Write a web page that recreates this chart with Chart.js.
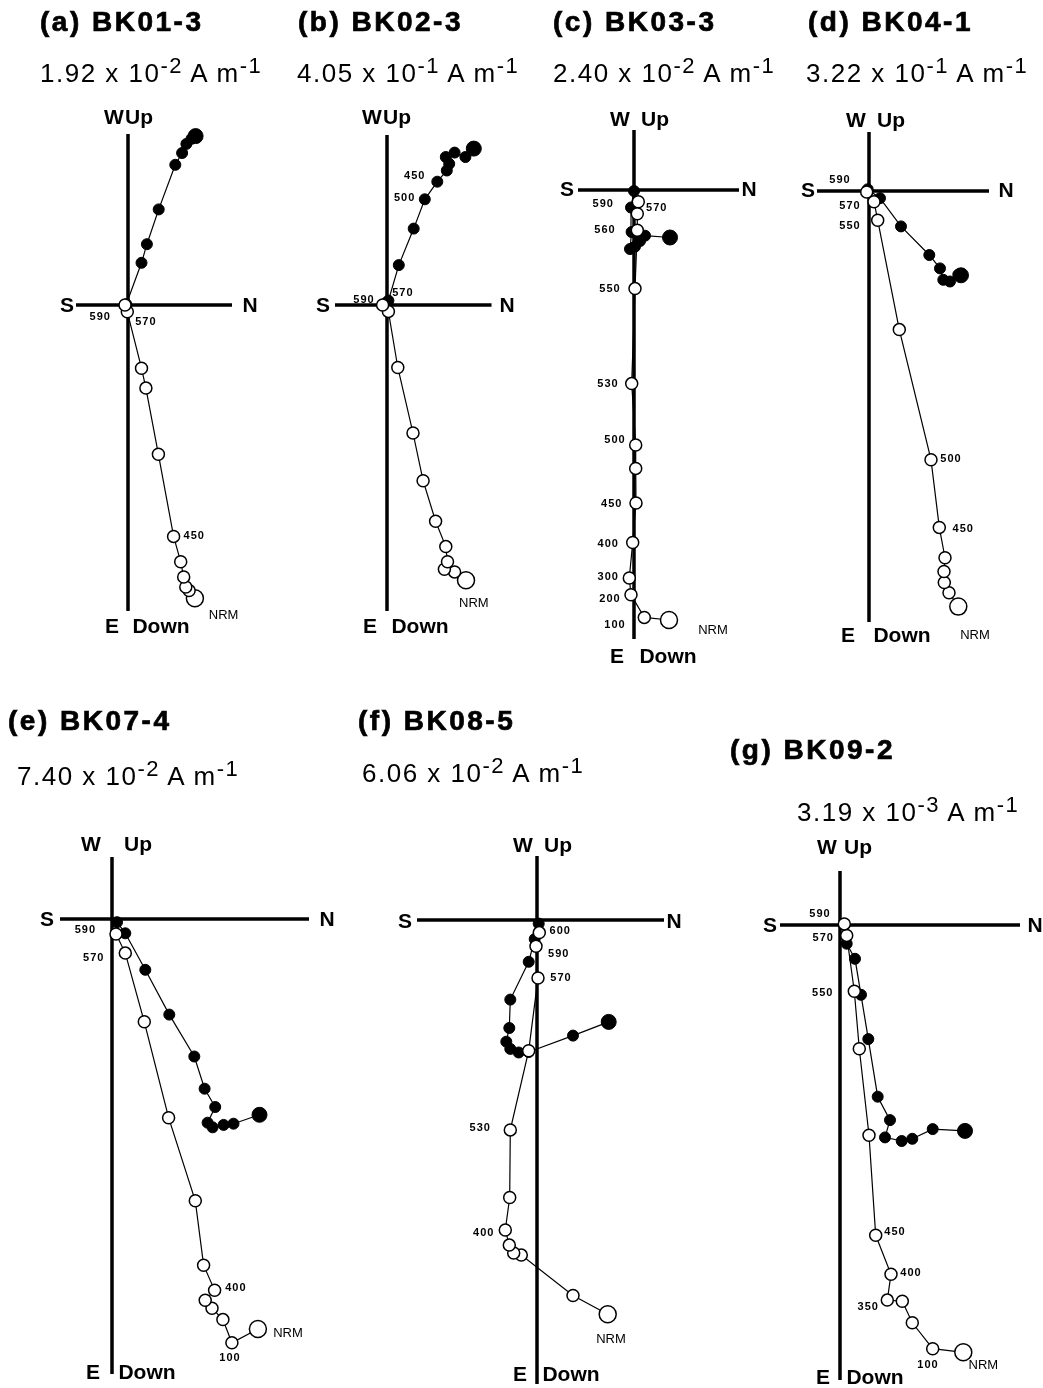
<!DOCTYPE html>
<html>
<head>
<meta charset="utf-8">
<script src="https://cdn.jsdelivr.net/npm/chart.js@4.4.0/dist/chart.umd.min.js"></script>
<style>
body { margin: 0; background: #fff; width: 1043px; height: 1388px; position: relative; overflow: hidden;
       font-family: "Liberation Sans", Arial, sans-serif; }
canvas { position: absolute; left: 0; top: 0; }
.title { position: absolute; font-weight: bold; font-size: 28px; line-height: 1; letter-spacing: 2.5px; white-space: nowrap;
         -webkit-text-stroke: 0.7px #000; }
.inten { position: absolute; font-size: 26px; line-height: 1; letter-spacing: 1.5px; white-space: nowrap; }
.inten sup { font-size: 22px; position: relative; top: -9px; vertical-align: baseline; line-height: 0; }
</style>
</head>
<body>
<script>
const W = 1043, H = 1388;

// sample names and NRM intensities
const titles = ["(a) BK01-3", "(b) BK02-3", "(c) BK03-3", "(d) BK04-1", "(e) BK07-4", "(f) BK08-5", "(g) BK09-2"];
const intensities = [["1.92", "-2"], ["4.05", "-1"], ["2.40", "-2"], ["3.22", "-1"], ["7.40", "-2"], ["6.06", "-2"], ["3.19", "-3"]];

// Zijderveld data, NRM first. x = N, y = E (solid) / Up (open)
const bk01Horiz = [[67.6,168.9],[63.5,166.2],[58.4,161.1],[54.1,152],[47.3,140.2],[30.7,95.6],[18.9,60.8],[13.5,42.2],[-1.7,0.7]];
const bk01Vert  = [[66.9,-293.2],[61.1,-285.5],[57.8,-282],[55.7,-272],[52.7,-256.8],[45.6,-231.4],[30.4,-149.3],[17.9,-83.1],[13.5,-63.2],[-0.7,-6.8],[-3,0]];
const bk02Horiz = [[86.8,156.4],[78.4,148],[67.6,152.4],[58.8,148],[62.2,141.2],[59.8,134.5],[50.3,123.3],[37.8,105.7],[26.7,76.4],[11.8,39.9],[1.4,4.4],[-1,2]];
const bk02Vert  = [[79,-275.3],[67.6,-266.9],[57.4,-264.2],[60.5,-256.8],[58.8,-241.6],[48.6,-216.2],[36.1,-175.7],[26,-128],[10.8,-62.5],[1.4,-6.4],[-4.4,0]];
const bk03Horiz = [[36,-47.5],[11,-45.7],[3.4,-43.8],[6,-51],[1,-56.6],[-4,-59],[-2.4,-42],[-3,-17.5],[0,-1]];
const bk03Vert  = [[35,-430],[10.3,-427.4],[-3,-404.8],[-4.7,-388],[-1.3,-352.5],[2,-313],[1.7,-278.4],[1.7,-255],[-2.3,-193.6],[1,-98.6],[3.3,-40.2],[3.3,-23.7],[4.3,-11.7]];
const bk04Horiz = [[92,-84.3],[89.3,-83.6],[81,-90.5],[74.3,-88.8],[71,-77.4],[60.3,-64],[32,-35.4],[11,-7.2],[-1.3,1.7]];
const bk04Vert  = [[89.3,-415.6],[80,-401.8],[75.3,-391.5],[75,-380.5],[76,-366.7],[70.3,-336.4],[62,-268.7],[30.3,-138.6],[8.7,-29.2],[5,-10.7],[-2.3,-1]];
const bk07Horiz = [[147.5,-195.8],[121.5,-204.7],[111.6,-205.9],[100.6,-208.3],[95.6,-203.7],[103.2,-188],[92.6,-169.7],[82.3,-137.5],[57.3,-95.6],[33.3,-50.8],[13.3,-14.3],[5,-3.2]];
const bk07Vert  = [[145.9,-410],[119.9,-423.8],[110.9,-400.6],[100,-389.2],[93.2,-381.2],[102.6,-371.3],[91.6,-346.2],[83.3,-281.8],[56.6,-198.7],[32.3,-102.8],[13.3,-34.1],[4,-15]];
const bk08Horiz = [[71.7,-101.9],[36,-115.6],[-8.3,-132],[-18.3,-132.5],[-26.7,-128.9],[-30.7,-121.7],[-27.7,-108],[-26.7,-79.6],[-8.3,-41.8],[-2.3,-19.1],[1.7,-3.6]];
const bk08Vert  = [[70.7,-394.2],[36,-375.5],[-15.7,-335.1],[-23.3,-333],[-27.7,-325.1],[-31.7,-310],[-27.3,-277.5],[-26.7,-209.9],[-8.3,-130.7],[1,-58],[-1,-26.3],[2.3,-12.6]];
const bk09Horiz = [[125,-205.9],[92.7,-204.1],[72.3,-213.8],[61.7,-216],[45,-212.4],[50,-195.1],[37.7,-171.7],[28.3,-114.1],[21,-69.8],[15,-33.8],[6.7,-18.7]];
const bk09Vert  = [[123.3,-427.3],[92.7,-423.7],[72.3,-397.8],[62.3,-376.2],[47.3,-375.1],[51,-349.2],[35.7,-310.3],[29,-210.2],[19.3,-123.8],[14.3,-66.2],[6.7,-10.4],[4.3,1.1]];

// demagnetisation step labels [text, x, y]
const bk01Steps = [["590",-27.7,-11.8],["570",17.9,-16.9],["450",66.2,-231.4],["NRM",95.6,-310.8]];
const bk02Steps = [["450",27.7,129.4],["500",17.6,107.4],["570",15.9,11.8],["590",-23,5],["NRM",86.8,-298]];
const bk03Steps = [["590",-30.7,-13.9],["570",22.7,-17.5],["560",-29,-39.5],["550",-24,-98.6],["530",-26,-194.3],["500",-19,-250.2],["450",-22.3,-314],["400",-25.7,-353.6],["300",-25.7,-387],["200",-24,-409],["100",-19,-434.7],["NRM",79,-440]];
const bk04Steps = [["590",-29,11],["570",-19,-14.8],["550",-19,-35.4],["500",82,-267.6],["450",94.3,-337.5],["NRM",106,-444]];
const bk07Steps = [["590",-26.6,-11.4],["570",-18.3,-39],["400",123.9,-369.4],["100",118,-439],["NRM",176,-414]];
const bk08Steps = [["600",23.3,-11.1],["590",21.7,-33.5],["570",24,-57.6],["530",-56.7,-208.1],["400",-53.3,-313],["NRM",74,-419.5]];
const bk09Steps = [["590",-20,10.8],["570",-16.7,-12.6],["550",-17.3,-68],["450",55,-307.4],["400",71,-348],["350",28.3,-382.3],["100",88,-440],["NRM",143.3,-440]];

// panel layout: origin on the page, axis extents, axis-name offsets, title positions
const panels = [
  { horiz: bk01Horiz, vert: bk01Vert, steps: bk01Steps, origin: [128, 305], hAxis: [-52, 104], vAxis: [-306, 171],
    names: { W: [-14, 187], Up: [11, 187], S: [-61, -1], N: [122, -1], E: [-16, -322], Down: [33, -322] },
    title: [40, 32], inten: [40, 82] },
  { horiz: bk02Horiz, vert: bk02Vert, steps: bk02Steps, origin: [387, 305], hAxis: [-52, 104.5], vAxis: [-306, 170],
    names: { W: [-15, 187], Up: [10, 187], S: [-64, -1], N: [120, -1], E: [-17, -322], Down: [33, -322] },
    title: [298, 32], inten: [297, 82] },
  { horiz: bk03Horiz, vert: bk03Vert, steps: bk03Steps, origin: [634, 190], hAxis: [-56, 105], vAxis: [-449, 60],
    names: { W: [-14, 70], Up: [21, 70], S: [-67, 0], N: [115, 0], E: [-17, -467], Down: [34, -467] },
    title: [553, 32], inten: [553, 82] },
  { horiz: bk04Horiz, vert: bk04Vert, steps: bk04Steps, origin: [869, 191], hAxis: [-52, 120], vAxis: [-431, 59],
    names: { W: [-13, 70], Up: [22, 70], S: [-61, 0], N: [137, 0], E: [-21, -445], Down: [33, -445] },
    title: [808, 32], inten: [806, 82] },
  { horiz: bk07Horiz, vert: bk07Vert, steps: bk07Steps, origin: [112, 919], hAxis: [-52, 197], vAxis: [-455, 62],
    names: { W: [-21, 74], Up: [26, 74], S: [-65, -1], N: [215, -1], E: [-19, -454], Down: [35, -454] },
    title: [8, 731], inten: [17, 785] },
  { horiz: bk08Horiz, vert: bk08Vert, steps: bk08Steps, origin: [537, 920], hAxis: [-120, 127], vAxis: [-464, 64],
    names: { W: [-14, 74], Up: [21, 74], S: [-132, -2], N: [137, -2], E: [-17, -455], Down: [34, -455] },
    title: [358, 731], inten: [362, 782] },
  { horiz: bk09Horiz, vert: bk09Vert, steps: bk09Steps, origin: [840, 925], hAxis: [-60, 180], vAxis: [-455, 54],
    names: { W: [-13, 77], Up: [18, 77], S: [-70, -1], N: [195, -1], E: [-17, -453], Down: [35, -453] },
    title: [730, 760], inten: [797, 821] }
];

const pts = arr => arr.map(([x, y]) => ({ x, y }));

// draws axis names and step labels at data positions
const textPlugin = {
  id: 'zijText',
  afterDatasetsDraw(chart, args, opts) {
    const p = opts.panel;
    const ctx = chart.ctx, sx = chart.scales.x, sy = chart.scales.y;
    ctx.save();
    ctx.fillStyle = '#000';
    ctx.textAlign = 'center';
    ctx.textBaseline = 'middle';
    ctx.font = 'bold 21px "Liberation Sans", Arial, sans-serif';
    Object.entries(p.names).forEach(([t, [x, y]]) => {
      ctx.fillText(t, sx.getPixelForValue(x), sy.getPixelForValue(y));
    });
    p.steps.forEach(([t, x, y]) => {
      if (t === 'NRM') {
        ctx.font = '13px "Liberation Sans", Arial, sans-serif';
        ctx.letterSpacing = '0px';
      } else {
        ctx.font = 'bold 11px "Liberation Sans", Arial, sans-serif';
        ctx.letterSpacing = '1px';
      }
      ctx.fillText(t, sx.getPixelForValue(x), sy.getPixelForValue(y));
    });
    ctx.restore();
  }
};

function makePanel(p, i) {
  const cv = document.createElement('canvas');
  cv.width = W;
  cv.height = H;
  cv.style.width = W + 'px';
  cv.style.height = H + 'px';
  document.body.appendChild(cv);
  const [ox, oy] = p.origin;

  new Chart(cv, {
    type: 'scatter',
    data: {
      datasets: [
        { data: pts(p.vert), showLine: true, borderColor: '#000', borderWidth: 1.2,
          pointBackgroundColor: '#fff', pointBorderColor: '#000', pointBorderWidth: 1.5,
          pointRadius: c => c.dataIndex === 0 ? 8.5 : 6, order: 0 },
        { data: pts(p.horiz), showLine: true, borderColor: '#000', borderWidth: 1.2,
          pointBackgroundColor: '#000', pointBorderColor: '#000', pointBorderWidth: 1,
          pointRadius: c => c.dataIndex === 0 ? 7.5 : 5.5, order: 1 },
        { data: [{ x: p.hAxis[0], y: 0 }, { x: p.hAxis[1], y: 0 }], showLine: true,
          borderColor: '#000', borderWidth: 3.5, pointRadius: 0, order: 2 },
        { data: [{ x: 0, y: p.vAxis[0] }, { x: 0, y: p.vAxis[1] }], showLine: true,
          borderColor: '#000', borderWidth: 3.5, pointRadius: 0, order: 3 }
      ]
    },
    options: {
      responsive: false,
      animation: false,
      devicePixelRatio: 1,
      events: [],
      layout: { padding: 0, autoPadding: false },
      plugins: { legend: { display: false }, tooltip: { enabled: false }, zijText: { panel: p } },
      scales: {
        x: { type: 'linear', min: -ox, max: W - ox, display: false },
        y: { type: 'linear', min: -(H - oy), max: oy, display: false }
      }
    },
    plugins: [textPlugin]
  });

  // title and intensity
  const t = document.createElement('div');
  t.className = 'title';
  t.textContent = titles[i];
  t.style.left = p.title[0] + 'px';
  t.style.top = (p.title[1] - 23.7) + 'px';
  document.body.appendChild(t);

  const [mant, exp] = intensities[i];
  const m = document.createElement('div');
  m.className = 'inten';
  m.innerHTML = `${mant} x 10<sup>${exp}</sup> A m<sup>-1</sup>`;
  m.style.left = p.inten[0] + 'px';
  m.style.top = (p.inten[1] - 22) + 'px';
  document.body.appendChild(m);
}

panels.forEach(makePanel);
</script>
</body>
</html>
